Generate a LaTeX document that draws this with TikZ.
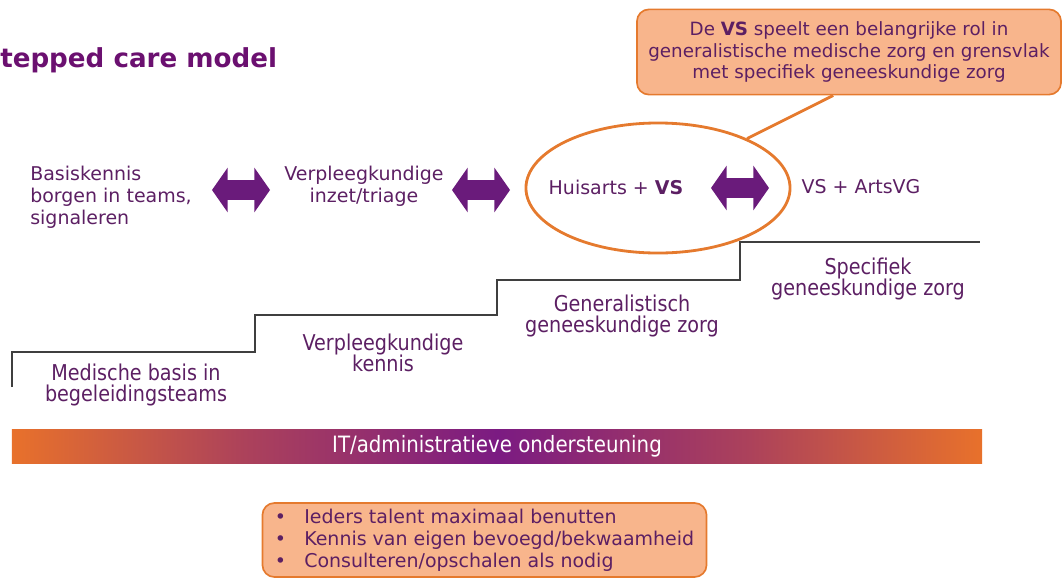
\documentclass[tikz,border=0pt]{standalone}
\usepackage{fontspec}
\setmainfont{DejaVu Sans}
\newfontfamily\smalfont[FakeStretch=0.88]{DejaVu Sans}
\usetikzlibrary{positioning,shapes.geometric,shapes.arrows}
\definecolor{paars}{HTML}{5C1F63}
\definecolor{titelpaars}{HTML}{6B1070}
\definecolor{pijlpaars}{HTML}{6A1B7B}
\definecolor{oranje}{HTML}{E57A2E}
\definecolor{lichtoranje}{HTML}{F8B58C}
\definecolor{lijngrijs}{HTML}{3F3F3F}
\definecolor{balkoranje}{HTML}{E8712B}
\definecolor{balkpaars}{HTML}{7B1B82}
\colorlet{balkmidden}{balkoranje!45!balkpaars}
\pgfdeclarehorizontalshading{balk}{100bp}{color(0bp)=(balkoranje); color(25bp)=(balkoranje); color(37bp)=(balkmidden); color(50bp)=(balkpaars); color(63bp)=(balkmidden); color(75bp)=(balkoranje); color(100bp)=(balkoranje)}

\begin{document}
\begin{tikzpicture}[x=0.025cm,y=-0.025cm,
		rij/.style={text=paars,font=\fontsize{13.5}{15.6}\selectfont,align=center,inner sep=0pt},
		trede/.style={text=paars,font=\smalfont\fontsize{15.5}{15.3}\selectfont,align=center,inner sep=0pt},
		pijl/.style={double arrow,fill=pijlpaars,inner sep=0.24cm,double arrow head extend=0.31cm,double arrow tip angle=110,minimum height=1.45cm},
		kader/.style={rectangle,rounded corners=0.3cm,draw=oranje,line width=1.2pt,fill=lichtoranje,text=paars,font=\fontsize{13}{15.6}\selectfont,align=center}]
		\useasboundingbox (0,0) rectangle (1064,580);

		\node[anchor=base west,inner sep=0pt,text=titelpaars,font=\bfseries\fontsize{18.6}{22}\selectfont]	(titel)	at (0,67)	{tepped care model};

		\node[kader,minimum width=10.6cm,minimum height=2.13cm]	(ballon)	at (849,52)	{De \textbf{VS} speelt een belangrijke rol in\\generalistische medische zorg en grensvlak\\met specifiek geneeskundige zorg};
		\node[ellipse,draw=oranje,line width=2pt,minimum width=6.6cm,minimum height=3.25cm,inner sep=0pt]	(ovaal)	at (658,188)	{};
		\draw[oranje,line width=2pt] (ovaal.29) -- (ballon.250);

		\node[rij,anchor=west,align=left]	(basis)		at (30,197)		{Basiskennis\\borgen in teams,\\signaleren};
		\node[pijl]							(pijl1)		at (241,190)	{};
		\node[rij]							(inzet)		at (364,186)	{Verpleegkundige\\inzet/triage};
		\node[pijl]							(pijl2)		at (481,190)	{};
		\node[rij]							(huisarts)	at (616,187)	{Huisarts + \textbf{VS}};
		\node[pijl]							(pijl3)		at (740,188)	{};
		\node[rij]							(vsarts)	at (861,187)	{VS + ArtsVG};

		\draw[lijngrijs,line width=1.6pt] (12,387) |- (255,352) |- (497,315) |- (740,280) |- (980,242);

		\node[trede]	(trede1)	at (136,385)	{Medische basis in\\begeleidingsteams};
		\node[trede]	(trede2)	at (383,353)	{Verpleegkundige\\kennis};
		\node[trede]	(trede3)	at (622,316)	{Generalistisch\\geneeskundige zorg};
		\node[trede]	(trede4)	at (868,279)	{Specifiek\\geneeskundige zorg};

		\node[shading=balk,minimum width=24.25cm,minimum height=0.83cm,inner sep=0pt,text=white,font=\smalfont\fontsize{16}{18}\selectfont]	(balk)	at (497,446.5)	{IT/administratieve ondersteuning};

		\node[kader,align=left,minimum width=11.1cm,minimum height=1.85cm,font=\fontsize{13.5}{15.6}\selectfont]	(tips)	at (484.5,540)	{\textbullet\hspace{13pt}Ieders talent maximaal benutten\\\textbullet\hspace{13pt}Kennis van eigen bevoegd/bekwaamheid\\\textbullet\hspace{13pt}Consulteren/opschalen als nodig};
	\end{tikzpicture}
\end{document}
